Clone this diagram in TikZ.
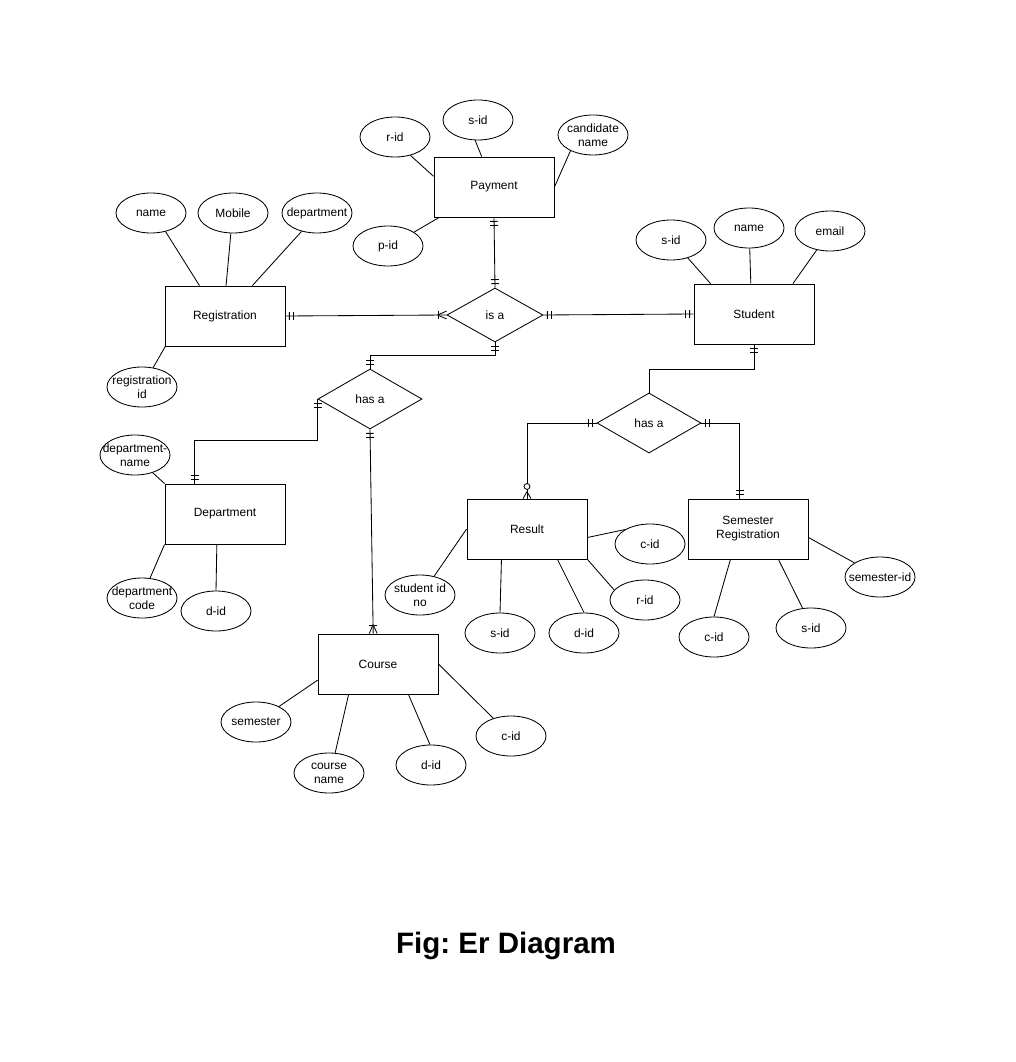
\documentclass[tikz,border=0pt]{standalone}
\usepackage{fontspec}
\setmainfont{Liberation Sans}
\usetikzlibrary{shapes.geometric, decorations.markings}

\begin{document}
\begin{tikzpicture}[x=0.025cm, y=-0.025cm, line width=0.6pt,
  font=\fontsize{8.5}{10}\selectfont,
  entity/.style={draw, rectangle, minimum width=3cm, minimum height=1.5cm, inner sep=0pt, align=center},
  attr/.style={draw, ellipse, minimum width=1.75cm, minimum height=1cm, inner xsep=-6pt, inner ysep=0pt, align=center},
  rel/.style={draw, diamond, inner sep=0pt, minimum width=2.6cm, minimum height=1.5cm},
  erbar/.style={postaction={decorate, decoration={markings, mark=at position #1 with {\draw (0,-2.8pt)--(0,2.8pt);}}}},
  one start/.style={erbar=2.8pt, erbar=5.7pt},
  one end/.style={erbar=-2.8pt, erbar=-5.7pt},
  many end/.style={erbar=-5.7pt, postaction={decorate, decoration={markings, mark=at position -6.4pt with {\draw (0,0)--(6.4pt,2.8pt) (0,0)--(6.4pt,-2.8pt);}}}},
  zero many end/.style={postaction={decorate, decoration={markings, mark=at position -5pt with {\draw (0,0)--(5pt,2.8pt) (0,0)--(5pt,-2.8pt); \draw[fill=white] (-3.6pt,0) circle (2.1pt);}}}}]
\useasboundingbox (0,0) rectangle (1015,1062);

\node[entity] (pay) at (494,187) {Payment};
\node[attr] (payrid) at (395,137) {r-id};
\node[attr] (paysid) at (478,120) {s-id};
\node[attr] (paycand) at (593,135) {candidate\\name};
\node[attr] (paypid) at (388,246) {p-id};
\draw (payrid.310) -- (pay.170);
\draw (paysid.262) -- (pay.112);
\draw (paycand.215) -- (pay.east);
\draw (paypid.28) -- (pay.209);

\node[entity] (reg) at (225,316) {Registration};
\node[attr] (regname) at (151,213) {name};
\node[attr] (regmob) at (233,213) {Mobile};
\node[attr] (regdep) at (317,213) {department};
\node[attr] (regid) at (142,387) {registration\\id};
\draw (regname.308) -- (reg.130);
\draw (regmob.264) -- (reg.88);
\draw (regdep.230) -- (reg.48);
\draw (regid.60) -- (reg.207);

\node[entity] (stu) at (754,314) {Student};
\node[attr] (stusid) at (671,240) {s-id};
\node[attr] (stuname) at (749,228) {name};
\node[attr] (stuemail) at (830,231) {email};
\draw (stusid.313) -- (stu.145);
\draw (stuname.272) -- (stu.96);
\draw (stuemail.235) -- (stu.38);

\node[rel, minimum width=2.4cm, minimum height=1.35cm] (isa) at (495,315) {is a};
\node[rel] (hasdep) at (370,399) {has a};
\node[rel] (hasres) at (649,423) {has a};

\node[entity] (dep) at (225,514) {Department};
\node[attr] (depname) at (135,455) {department-\\name};
\node[attr] (depcode) at (142,598) {department\\code};
\node[attr] (depdid) at (216,611) {d-id};
\draw (depname.315) -- (dep.north west);
\draw (depcode.68) -- (dep.south west);
\draw (depdid.north) -- (dep.255);

\node[entity] (crs) at (378,664) {Course};
\node[attr] (crssem) at (256,722) {semester};
\node[attr] (crsname) at (329,773) {course\\name};
\node[attr] (crsdid) at (431,765) {d-id};
\node[attr] (crscid) at (511,736) {c-id};
\draw (crssem.34) -- (crs.195);
\draw (crsname.73) -- (crs.226);
\draw (crsdid.93) -- (crs.315);
\draw (crscid.135) -- (crs.east);

\node[entity] (res) at (527,529) {Result};
\node[attr] (resno) at (420,595) {student id\\no};
\node[attr] (ressid) at (500,633) {s-id};
\node[attr] (resdid) at (584,633) {d-id};
\node[attr] (resrid) at (645,600) {r-id};
\node[attr] (rescid) at (650,544) {c-id};
\draw (resno.53) -- (res.west);
\draw (ressid.north) -- (res.230);
\draw (resdid.north) -- (res.315);
\draw (resrid.162) -- (res.south east);
\draw (rescid.150) -- (res.352);

\node[entity] (sreg) at (748,529) {Semester\\Registration};
\node[attr] (sregcid) at (714,637) {c-id};
\node[attr] (sregsid) at (811,628) {s-id};
\node[attr] (sregsem) at (880,577) {semester-id};
\draw (sregcid.north) -- (sreg.240);
\draw (sregsid.113) -- (sreg.315);
\draw (sregsem.151) -- (sreg.352);

\draw[one start, many end] (reg.east) -- (isa.west);
\draw[one start, one end] (pay.south) -- (isa.north);
\draw[one start, one end] (isa.east) -- (stu.west);
\draw[one start, one end] (isa.south) -- ++(0,13) -| (hasdep.north);
\draw[one start, one end] (hasdep.west) -- ++(0,41) -| (dep.135);
\draw[one start, many end] (hasdep.south) -- (crs.99);
\draw[one start] (stu.south) -- ++(0,25) -| (hasres.north);
\draw[one start, zero many end] (hasres.west) -| (res.north);
\draw[one start, one end] (hasres.east) -| (sreg.105);

\node[font=\fontsize{21}{25}\selectfont\bfseries] (cap) at (506,946) {Fig:\ Er Diagram};
\end{tikzpicture}
\end{document}
